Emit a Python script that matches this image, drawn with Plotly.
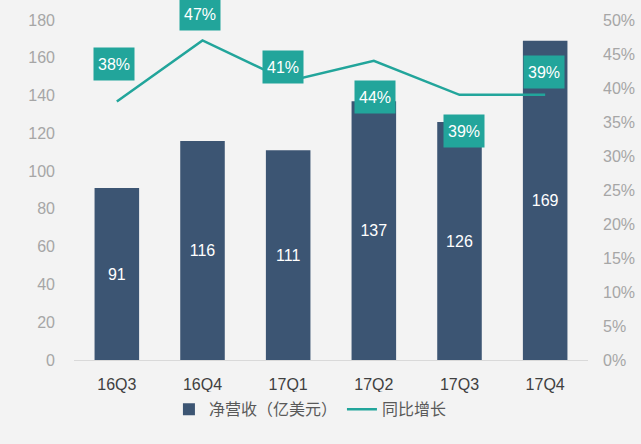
import plotly.graph_objects as go

categories = ["16Q3", "16Q4", "17Q1", "17Q2", "17Q3", "17Q4"]
revenue = [91, 116, 111, 137, 126, 169]
growth = [0.38, 0.47, 0.41, 0.44, 0.39, 0.39]
growth_labels = ["38%", "47%", "41%", "44%", "39%", "39%"]
left_ticks = [0, 20, 40, 60, 80, 100, 120, 140, 160, 180]
right_ticks = [0, 0.05, 0.10, 0.15, 0.20, 0.25, 0.30, 0.35, 0.40, 0.45, 0.50]
right_tick_text = ["0%", "5%", "10%", "15%", "20%", "25%", "30%", "35%", "40%", "45%", "50%"]

# label offsets (style, pixels)
label_dx = [-3, -3, -5, 1, 4, -1]
label_dy = [38, 26, 14, -36, -36, 23]

BAR = "#3c5573"
TEAL = "#22a59b"
BG = "#f3f3f3"
FONT = "Liberation Sans, Noto Sans CJK SC, sans-serif"

fig = go.Figure()
fig.add_trace(go.Bar(
    x=categories, y=revenue, name="净营收（亿美元）",
    marker=dict(color=BAR, line=dict(width=0)),
    width=0.52,
    text=[str(v) for v in revenue], textposition="inside",
    insidetextanchor="middle",
    textfont=dict(color="white", size=16, family=FONT),
    yaxis="y",
))
fig.add_trace(go.Scatter(
    x=categories, y=growth, name="同比增长", mode="lines",
    line=dict(color=TEAL, width=2.5),
    yaxis="y2",
))

for i, (c, g, t) in enumerate(zip(categories, growth, growth_labels)):
    fig.add_annotation(
        x=c, y=g, xref="x", yref="y2", text=t, showarrow=False,
        xshift=label_dx[i], yshift=label_dy[i],
        bgcolor=TEAL, width=38, height=30,
        font=dict(color="white", size=16, family=FONT),
    )

fig.update_layout(
    width=641, height=444,
    paper_bgcolor=BG, plot_bgcolor=BG,
    margin=dict(l=74, r=53, t=20, b=84, autoexpand=False),
    font=dict(family=FONT, size=16, color="#a6a6a6"),
    showlegend=True,
    legend=dict(orientation="h", x=0.46, xanchor="center", y=-0.095, yanchor="top",
                font=dict(size=16, color="#595959", family=FONT),
                traceorder="normal", itemwidth=30),
    xaxis=dict(
        showline=True, linecolor="#d9d9d9", linewidth=1,
        ticks="", tickfont=dict(size=16, color="#404040"),
        showgrid=False, ticklabelstandoff=10, automargin=False,
    ),
    yaxis=dict(
        range=[0, 180], tickvals=left_ticks, showgrid=False, zeroline=False,
        tickfont=dict(size=16, color="#a6a6a6"), ticklabelstandoff=18,
        automargin=False,
    ),
    yaxis2=dict(
        range=[0, 0.5], tickvals=right_ticks, ticktext=right_tick_text,
        overlaying="y", side="right", showgrid=False, zeroline=False,
        tickfont=dict(size=16, color="#a6a6a6"), ticklabelstandoff=14,
        automargin=False,
    ),
)

fig.write_html(
    "out.html",
    config={"displayModeBar": False},
    post_script="document.body.style.margin='0';document.body.style.background='#f3f3f3';",
)
